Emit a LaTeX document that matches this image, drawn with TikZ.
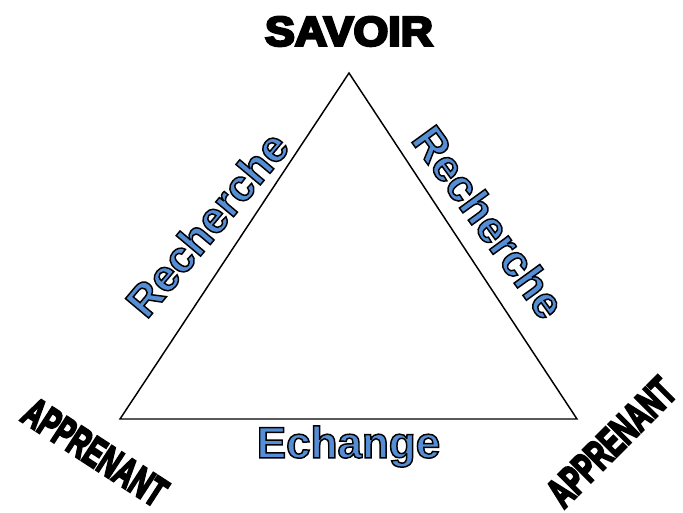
\documentclass[tikz,border=0pt]{standalone}
\usepackage{fontspec}
\setmainfont{Liberation Sans}
\definecolor{rechBlue}{HTML}{558ED5}
\usetikzlibrary{positioning}
% texte bleu cerne de noir, texte noir epaissi (mode de rendu PDF 2 = remplir + contour)
\newcommand{\Bleu}[1]{\textcolor{rechBlue}{\special{pdf:literal direct 0 G 2 Tr 1.1 w}#1\special{pdf:literal direct 0 Tr 0.4 w}}}
\newcommand{\Noir}[1]{\special{pdf:literal direct 0 G 2 Tr 1.9 w}#1\special{pdf:literal direct 0 Tr 0.4 w}}

\begin{document}
\begin{tikzpicture}[x=0.75pt, y=-0.75pt,
		pole/.style={font=\bfseries\fontsize{31}{31}\selectfont, inner sep=0pt},
		lien/.style={font=\bfseries\fontsize{33}{33}\selectfont, inner sep=0pt},
		cote/.style={line width=1.1pt, line join=miter}
	]
		\useasboundingbox (0,0) rectangle (683,512);
		\coordinate (haut) at (349,73);
		\coordinate (gauche) at (120,419);
		\coordinate (droite) at (577,419);
		\coordinate (base) at (348.5,419);
		\draw[cote] (gauche) -- (haut) -- (droite) -- cycle;
		\node[pole, xscale=1.08, above=20pt of haut] (savoir) {\Noir{SAVOIR}};
		\node[pole, rotate=-33, xscale=0.63] (apprG) at (95,452) {\Noir{APPRENANT}};
		\node[pole, rotate=45, xscale=0.63] (apprD) at (611,442) {\Noir{APPRENANT}};
		\node[lien, rotate=50] (rechG) at (207,224) {\Bleu{Recherche}};
		\node[lien, rotate=-54] (rechD) at (489,222) {\Bleu{Recherche}};
		\node[lien, below=5pt of base] (echange) {\Bleu{Echange}};
	\end{tikzpicture}
\end{document}
